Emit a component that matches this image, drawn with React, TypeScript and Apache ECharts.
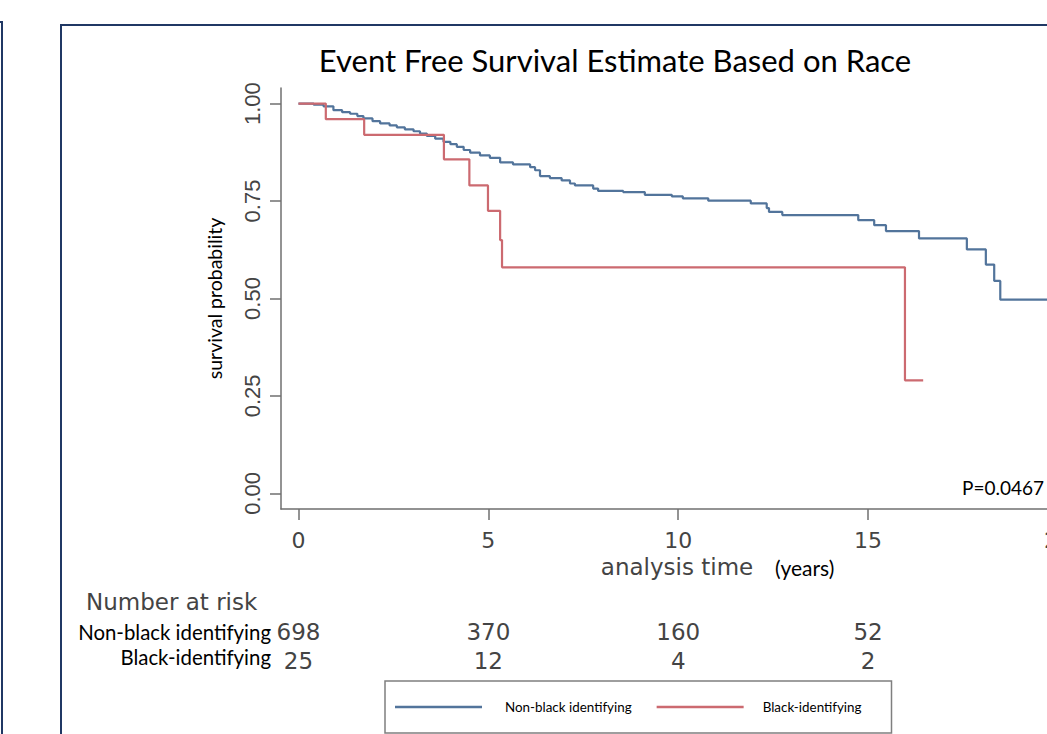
import React, { useEffect, useRef } from "react";
import * as echarts from "echarts";

// Kaplan–Meier estimates (time in years, survival probability)
const blueTimes = [0, 0.4, 0.66, 0.92, 1.15, 1.36, 1.55, 1.71, 1.95, 2.15, 2.4, 2.59, 2.8, 3.03, 3.2, 3.38, 3.6, 3.82, 4.0, 4.17, 4.35, 4.52, 4.78, 5.04, 5.31, 5.65, 6.1, 6.23, 6.36, 6.62, 6.93, 7.15, 7.28, 7.76, 7.89, 8.55, 9.12, 9.83, 10.12, 10.79, 11.91, 12.33, 12.39, 12.74, 14.74, 15.16, 15.47, 16.34, 17.6, 18.1, 18.32, 18.48, 20.0];
const blueSurv = [1.0, 0.997, 0.993, 0.983, 0.978, 0.974, 0.968, 0.962, 0.955, 0.949, 0.944, 0.939, 0.934, 0.929, 0.923, 0.917, 0.91, 0.902, 0.896, 0.889, 0.881, 0.874, 0.867, 0.861, 0.849, 0.844, 0.837, 0.829, 0.814, 0.809, 0.803, 0.795, 0.79, 0.782, 0.776, 0.773, 0.766, 0.762, 0.757, 0.751, 0.744, 0.732, 0.722, 0.714, 0.701, 0.688, 0.673, 0.654, 0.626, 0.587, 0.545, 0.497, 0.497];

const redTimes = [0, 0.72, 1.73, 3.83, 4.5, 4.99, 5.31, 5.36, 15.97, 16.45];
const redSurv = [1.0, 0.96, 0.92, 0.857, 0.79, 0.725, 0.65, 0.58, 0.29, 0.29];

const seriesNames = ["Non-black identifying", "Black-identifying"];

const xTicks = [0, 5, 10, 15, 20];
const yTicks = [0, 0.25, 0.5, 0.75, 1.0];

const riskTimes = [0, 5, 10, 15];
const riskNonBlack = [698, 370, 160, 52];
const riskBlack = [25, 12, 4, 2];

const BLUE = "#52749b";
const RED = "#cc6a70";
const AXIS = "#6f6f6f";
const GRAYTXT = "#444444";
const NAVY = "#203864";

export default function App() {
  const ref = useRef<HTMLDivElement>(null);

  useEffect(() => {
    document.body.style.margin = "0";
    document.body.style.overflow = "hidden";
    document.documentElement.style.overflow = "hidden";
    if (!ref.current) return;
    const chart = echarts.init(ref.current, undefined, { renderer: "svg" });

    const riskAxis = (values: number[], offset: number) => ({
      type: "value",
      gridIndex: 0,
      position: "bottom",
      min: -0.46,
      max: 20,
      offset,
      axisLine: { show: false, onZero: false },
      axisTick: { show: false },
      splitLine: { show: false },
      axisLabel: {
        customValues: riskTimes,
        margin: 0,
        fontFamily: "DejaVu Sans",
        fontSize: 23,
        color: GRAYTXT,
        formatter: (v: number) => {
          const i = riskTimes.indexOf(v);
          return i >= 0 ? String(values[i]) : "";
        },
      },
    });

    chart.setOption({
      animation: false,
      backgroundColor: "#ffffff",
      grid: { left: 281, top: 88, right: 16.7, bottom: 225, containLabel: false },
      xAxis: [
        {
          type: "value",
          min: -0.46,
          max: 20,
          axisLine: { show: true, onZero: false, lineStyle: { color: AXIS, width: 1.5 } },
          axisTick: { show: true, customValues: xTicks, length: 11, lineStyle: { color: AXIS, width: 1.5 } },
          splitLine: { show: false },
          axisLabel: {
            customValues: xTicks,
            margin: 20,
            fontFamily: "DejaVu Sans",
            fontSize: 22,
            color: GRAYTXT,
          },
          name: "analysis time",
          nameLocation: "middle",
          nameGap: 43,
          nameTextStyle: {
            fontFamily: "DejaVu Sans",
            fontSize: 23,
            color: GRAYTXT,
            padding: [0, 0, 0, 15],
          },
        },
        riskAxis(riskNonBlack, 111),
        riskAxis(riskBlack, 140),
      ],
      yAxis: {
        type: "value",
        min: -0.04,
        max: 1.04,
        axisLine: { show: true, onZero: false, lineStyle: { color: AXIS, width: 1.5 } },
        axisTick: { show: true, customValues: yTicks, length: 11, lineStyle: { color: AXIS, width: 1.5 } },
        splitLine: { show: false },
        axisLabel: {
          customValues: yTicks,
          rotate: 90,
          margin: 18,
          fontFamily: "Liberation Sans",
          fontSize: 22,
          color: GRAYTXT,
          formatter: (v: number) => v.toFixed(2),
        },
        name: "survival probability",
        nameLocation: "middle",
        nameRotate: 90,
        nameGap: 57,
        nameTextStyle: { fontFamily: "Lato", fontSize: 19.5, color: "#000" },
      },
      legend: {
        left: 385,
        top: 681,
        orient: "horizontal",
        icon: "rect",
        itemWidth: 87,
        itemHeight: 2.5,
        itemGap: 25,
        padding: [19.5, 30, 19.5, 10],
        borderColor: "#7f7f7f",
        borderWidth: 1.5,
        borderRadius: 0,
        textStyle: { fontFamily: "Lato", fontSize: 13.4, color: "#000", padding: [0, 0, 0, 18] },
        data: [
          { name: seriesNames[0] },
          { name: seriesNames[1], textStyle: { padding: [0, 0, 0, 14] } },
        ],
      },
      series: [
        {
          name: seriesNames[0],
          type: "line",
          step: "end",
          showSymbol: false,
          symbol: "none",
          color: BLUE,
          lineStyle: { color: BLUE, width: 2.2 },
          data: blueTimes.map((t, i) => [t, blueSurv[i]]),
          z: 2,
        },
        {
          name: seriesNames[1],
          type: "line",
          step: "end",
          showSymbol: false,
          symbol: "none",
          color: RED,
          lineStyle: { color: RED, width: 2.2 },
          data: redTimes.map((t, i) => [t, redSurv[i]]),
          z: 3,
        },
      ],
      graphic: [
        {
          type: "rect",
          silent: true,
          shape: { x: 61, y: 25, width: 1200, height: 900 },
          style: { fill: "none", stroke: NAVY, lineWidth: 2 },
        },
        {
          type: "rect",
          silent: true,
          shape: { x: -1000, y: 22, width: 1002, height: 900 },
          style: { fill: "none", stroke: NAVY, lineWidth: 2 },
        },
        {
          type: "text",
          x: 615,
          y: 60,
          style: {
            text: "Event Free Survival Estimate Based on Race",
            fontFamily: "Lato",
            fontSize: 31,
            fill: "#000",
            textAlign: "center",
            textVerticalAlign: "middle",
          },
        },
        {
          type: "text",
          x: 775,
          y: 567,
          style: { text: "(years)", fontFamily: "Lato", fontSize: 21, fill: "#000", textVerticalAlign: "middle" },
        },
        {
          type: "text",
          x: 962,
          y: 487,
          style: { text: "P=0.0467", fontFamily: "Lato", fontSize: 19, fill: "#000", textVerticalAlign: "middle" },
        },
        {
          type: "text",
          x: 86,
          y: 602,
          style: { text: "Number at risk", fontFamily: "DejaVu Sans", fontSize: 23, fill: GRAYTXT, textVerticalAlign: "middle" },
        },
        {
          type: "text",
          x: 271,
          y: 632,
          style: { text: seriesNames[0], fontFamily: "Lato", fontSize: 20.4, fill: "#000", textAlign: "right", textVerticalAlign: "middle" },
        },
        {
          type: "text",
          x: 271,
          y: 657,
          style: { text: seriesNames[1], fontFamily: "Lato", fontSize: 20.4, fill: "#000", textAlign: "right", textVerticalAlign: "middle" },
        },
      ],
    });

    return () => chart.dispose();
  }, []);

  return <div ref={ref} style={{ width: 1075, height: 734 }} />;
}
